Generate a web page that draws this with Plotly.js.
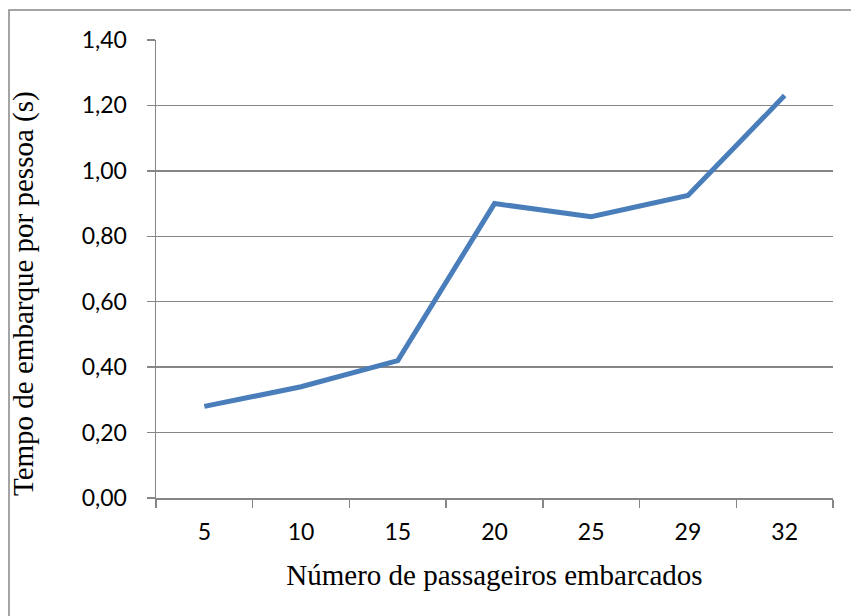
<!DOCTYPE html>
<html>
<head>
<meta charset="utf-8">
<script src="https://cdn.plot.ly/plotly-3.0.1.min.js"></script>
<style>html,body{margin:0;padding:0;background:#fff;}#chart{width:851px;height:616px;}</style>
</head>
<body>
<div id="chart"></div>
<script>
const categories = ["5", "10", "15", "20", "25", "29", "32"];
const tempoPorPessoa = [0.28, 0.34, 0.42, 0.90, 0.86, 0.925, 1.23];
const yTickValues = [0, 0.2, 0.4, 0.6, 0.8, 1.0, 1.2, 1.4];
const yTickLabels = ["0,00", "0,20", "0,40", "0,60", "0,80", "1,00", "1,20", "1,40"];
const xTitle = "Número de passageiros embarcados";
const yTitle = "Tempo de embarque por pessoa (s)";

const grey = "#868686";
const trace = {
  x: categories,
  y: tempoPorPessoa,
  type: "scatter",
  mode: "lines",
  line: {color: "#4a7ebb", width: 5},
  hoverinfo: "none"
};

const layout = {
  width: 851, height: 616,
  margin: {l: 156, r: 18, t: 40, b: 118},
  paper_bgcolor: "#fff", plot_bgcolor: "#fff",
  showlegend: false,
  xaxis: {
    type: "category",
    range: [-0.5, categories.length - 0.5],
    tickson: "boundaries",
    ticks: "outside", ticklen: 8, tickwidth: 1.5, tickcolor: grey,
    ticklabelstandoff: 13,
    showline: true, linecolor: grey, linewidth: 1.5,
    showgrid: false, zeroline: false,
    tickfont: {family: "Lato, sans-serif", size: 23, color: "#000"},
    title: {text: xTitle, font: {family: "Liberation Serif, serif", size: 29, color: "#000"}, standoff: 20},
    fixedrange: true
  },
  yaxis: {
    range: [0, 1.4],
    tickvals: yTickValues, ticktext: yTickLabels,
    ticks: "outside", ticklen: 8, tickwidth: 1.5, tickcolor: grey,
    ticklabelstandoff: 15,
    showline: true, linecolor: grey, linewidth: 1.5,
    showgrid: true, gridcolor: grey, gridwidth: 1.5,
    zeroline: false,
    tickfont: {family: "Lato, sans-serif", size: 23, color: "#000"},
    fixedrange: true
  },
  annotations: [{
    text: yTitle, textangle: -90, showarrow: false,
    xref: "paper", yref: "paper",
    x: (23 - 156) / 677, y: (498 - 294) / 458,
    xanchor: "center", yanchor: "middle",
    font: {family: "Liberation Serif, serif", size: 29, color: "#000"}
  }],
  shapes: [{
    type: "rect", xref: "paper", yref: "paper",
    x0: (9 - 156) / 677, x1: (860 - 156) / 677,
    y0: (498 - 630) / 458, y1: (498 - 10) / 458,
    line: {color: grey, width: 1.5}, fillcolor: "rgba(0,0,0,0)", layer: "below"
  }]
};

Plotly.newPlot("chart", [trace], layout, {displayModeBar: false, staticPlot: true});
</script>
</body>
</html>
